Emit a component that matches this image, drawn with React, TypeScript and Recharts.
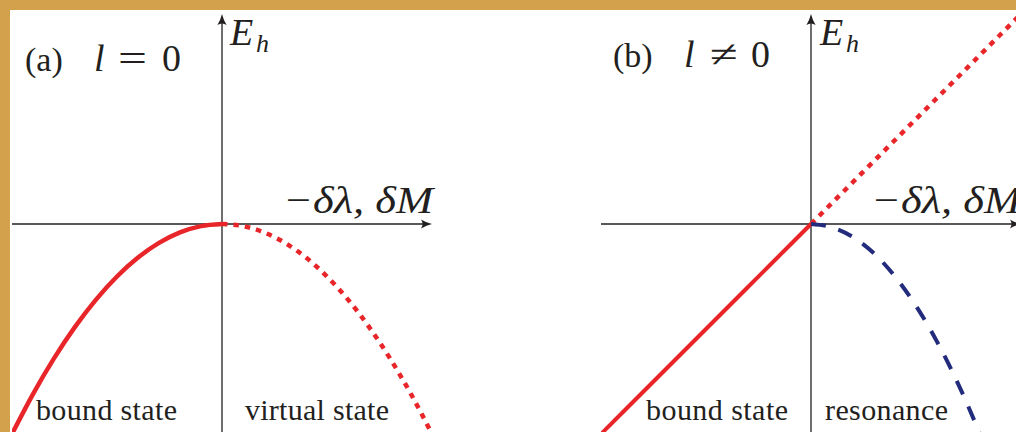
import { LineChart, Line, XAxis, YAxis, ReferenceLine } from "recharts";

// shared x grid for both panels (units of the sketch axes)
const xs = [-1.0, -0.9, -0.8, -0.7, -0.6, -0.5, -0.4, -0.3, -0.2, -0.1, 0, 0.1, 0.2, 0.3, 0.4, 0.5, 0.6, 0.7, 0.8, 0.9, 1.0];

// panel (a), l = 0: bound state (solid) and virtual state (dotted)
const boundA = [-1.0, -0.81, -0.64, -0.49, -0.36, -0.25, -0.16, -0.09, -0.04, -0.01, 0, null, null, null, null, null, null, null, null, null, null];
const virtualA = [null, null, null, null, null, null, null, null, null, null, 0, -0.01, -0.04, -0.09, -0.16, -0.25, -0.36, -0.49, -0.64, -0.81, -1.0];

// panel (b), l != 0: bound state, resonance real part (dotted), resonance width (dashed)
const boundB = [-1.0, -0.9, -0.8, -0.7, -0.6, -0.5, -0.4, -0.3, -0.2, -0.1, 0, null, null, null, null, null, null, null, null, null, null];
const resonanceRe = [null, null, null, null, null, null, null, null, null, null, 0, 0.1, 0.2, 0.3, 0.4, 0.5, 0.6, 0.7, 0.8, 0.9, 1.0];
const resonanceIm = [null, null, null, null, null, null, null, null, null, null, 0, -0.016, -0.062, -0.14, -0.25, -0.39, -0.56, -0.76, -0.99, -1.25, -1.55];

const dataA = xs.map((x, i) => ({ x, bound: boundA[i], virtual: virtualA[i] }));
const dataB = xs.map((x, i) => ({ x, bound: boundB[i], re: resonanceRe[i], im: resonanceIm[i] }));

const RED = "#E8262A";
const NAVY = "#232C7C";
const INK = "#231F20";
const SERIF = "'Liberation Serif', 'Times New Roman', Times, serif";

const Y_DOMAIN: [number, number] = [-1.6, 1];
const UNIT = 210; // pixels per axis unit
const CHART_W = 2 * UNIT;
const CHART_H = (Y_DOMAIN[1] - Y_DOMAIN[0]) * UNIT;

// axis line with a LaTeX-style arrowhead at the end point
function ArrowAxis(props: any) {
  const { x1, y1, x2, y2 } = props;
  const dx = x2 - x1;
  const dy = y2 - y1;
  const len = Math.hypot(dx, dy) || 1;
  const ux = dx / len;
  const uy = dy / len;
  const px = -uy;
  const py = ux;
  const L = 11;
  const W = 4.6;
  const bx = x2 - ux * L;
  const by = y2 - uy * L;
  const mx = x2 - ux * L * 0.5;
  const my = y2 - uy * L * 0.5;
  const nx = x2 - ux * L * 0.72;
  const ny = y2 - uy * L * 0.72;
  const d =
    `M${x2},${y2} Q${mx + px * 1.3},${my + py * 1.3} ${bx + px * W},${by + py * W} ` +
    `Q${nx},${ny} ${bx - px * W},${by - py * W} ` +
    `Q${mx - px * 1.3},${my - py * 1.3} ${x2},${y2} Z`;
  return (
    <g>
      <line x1={x1} y1={y1} x2={nx} y2={ny} stroke={INK} strokeWidth={1.3} />
      <path d={d} fill={INK} />
    </g>
  );
}

function Panel({ left, children, data }: { left: number; children: any; data: any[] }) {
  return (
    <div style={{ position: "absolute", left, top: 14 }}>
      <LineChart width={CHART_W} height={CHART_H} data={data} margin={{ top: 0, right: 0, bottom: 0, left: 0 }}>
        <XAxis type="number" dataKey="x" domain={[-1, 1]} hide />
        <YAxis type="number" domain={Y_DOMAIN} hide />
        <ReferenceLine segment={[{ x: -1, y: 0 }, { x: 1, y: 0 }]} shape={ArrowAxis} />
        <ReferenceLine segment={[{ x: 0, y: Y_DOMAIN[0] }, { x: 0, y: 1 }]} shape={ArrowAxis} />
        {children}
      </LineChart>
    </div>
  );
}

const roman = { fontFamily: SERIF };
const italic = { fontFamily: SERIF, fontStyle: "italic" as const };

export default function App() {
  return (
    <div
      style={{
        position: "absolute",
        left: 0,
        top: 0,
        width: 1016,
        height: 432,
        overflow: "hidden",
        background: "#D3A04B",
      }}
    >
      <div style={{ position: "absolute", left: 10, top: 10, right: 0, bottom: 0, background: "#fff" }} />

      <Panel left={12} data={dataA}>
        <Line dataKey="bound" type="monotone" stroke={RED} strokeWidth={4.5} dot={false} isAnimationActive={false} />
        <Line
          dataKey="virtual"
          type="monotone"
          stroke={RED}
          strokeWidth={4.5}
          strokeDasharray="5.5 6"
          dot={false}
          isAnimationActive={false}
        />
      </Panel>

      <Panel left={601} data={dataB}>
        <Line dataKey="bound" type="linear" stroke={RED} strokeWidth={4} dot={false} isAnimationActive={false} />
        <Line
          dataKey="re"
          type="linear"
          stroke={RED}
          strokeWidth={4.5}
          strokeDasharray="5.5 6"
          dot={false}
          isAnimationActive={false}
        />
        <Line
          dataKey="im"
          type="monotone"
          stroke={NAVY}
          strokeWidth={4}
          strokeDasharray="15 13"
          dot={false}
          isAnimationActive={false}
        />
      </Panel>

      <svg
        width={1016}
        height={432}
        style={{ position: "absolute", left: 0, top: 0, pointerEvents: "none", fontFamily: SERIF }}
        fill={INK}
      >
        {/* panel (a) */}
        <text x={25} y={71} fontSize={34} style={roman}>(a)</text>
        <text x={94} y={71} fontSize={38} style={italic}>l</text>
        <text x={118} y={71} fontSize={38} style={roman} textLength={29} lengthAdjust="spacingAndGlyphs">=</text>
        <text x={162} y={71} fontSize={38} style={roman}>0</text>
        <text x={230} y={45} fontSize={38} style={italic}>E</text>
        <text x={256} y={52} fontSize={26} style={italic}>h</text>
        <text x={283} y={213} fontSize={38} style={italic} textLength={150} lengthAdjust="spacingAndGlyphs">−δλ, δM</text>
        <text x={36} y={420} fontSize={30} style={roman} textLength={141}>bound state</text>
        <text x={245} y={420} fontSize={30} style={roman} textLength={144}>virtual state</text>

        {/* panel (b) */}
        <text x={613} y={67} fontSize={34} style={roman}>(b)</text>
        <text x={684} y={67} fontSize={38} style={italic}>l</text>
        <text x={710} y={67} fontSize={38} style={roman} textLength={28} lengthAdjust="spacingAndGlyphs">≠</text>
        <text x={751} y={67} fontSize={38} style={roman}>0</text>
        <text x={820} y={45} fontSize={38} style={italic}>E</text>
        <text x={846} y={52} fontSize={26} style={italic}>h</text>
        <text x={871} y={213} fontSize={38} style={italic} textLength={150} lengthAdjust="spacingAndGlyphs">−δλ, δM</text>
        <text x={646} y={420} fontSize={30} style={roman} textLength={142}>bound state</text>
        <text x={825} y={420} fontSize={30} style={roman} textLength={123}>resonance</text>
      </svg>
    </div>
  );
}
